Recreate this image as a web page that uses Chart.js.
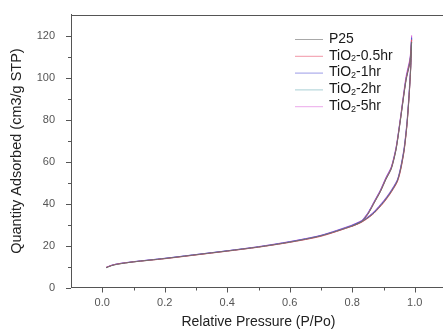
<!DOCTYPE html>
<html>
<head>
<meta charset="utf-8">
<script src="https://cdn.jsdelivr.net/npm/chart.js@4.4.1/dist/chart.umd.min.js"></script>
<style>
  html, body { margin: 0; padding: 0; background: #fff; overflow: hidden; }
  #wrap { width: 460px; height: 331px; }
</style>
</head>
<body>
<div id="wrap"><canvas id="isoterma"></canvas></div>
<script>
// nazivi uzoraka
var uzorci = ["P25", "TiO\u2082-0.5hr", "TiO\u2082-1hr", "TiO\u2082-2hr", "TiO\u2082-5hr"];

// relativni tlak, adsorpcija i desorpcija
var tlakAds = [0.012, 0.03, 0.05, 0.1, 0.2, 0.3, 0.4, 0.5, 0.6, 0.7, 0.8, 0.83, 0.85, 0.87, 0.9, 0.92, 0.944, 0.955, 0.966, 0.975, 0.982, 0.987, 0.99];
var tlakDes = [0.99, 0.985, 0.972, 0.954, 0.94, 0.925, 0.908, 0.89, 0.87, 0.86, 0.85, 0.84, 0.83, 0.8];

// kolicina adsorbirana (cm3/g STP)
var p25Ads = [9.4, 10.4, 11.1, 12.2, 13.8, 15.6, 17.4, 19.3, 21.6, 24.6, 29.3, 31.3, 33.2, 35.6, 40.6, 44.6, 50.6, 56.5, 65.5, 77.5, 91.5, 104.5, 117.0];
var p25Des = [117.0, 107.5, 98.5, 79.5, 65.5, 56.5, 51.5, 45.6, 40.2, 37.4, 34.9, 33.0, 31.4, 29.3];
var t05Ads = [9.5, 10.5, 11.2, 12.2, 13.7, 15.5, 17.3, 19.2, 21.5, 24.4, 29.2, 31.1, 33.0, 35.4, 40.3, 44.3, 50.2, 56.0, 65.0, 77.0, 91.0, 104.0, 118.0];
var t05Des = [118.0, 108.0, 99.0, 79.8, 65.8, 56.8, 51.8, 45.8, 40.4, 37.6, 35.0, 33.0, 31.2, 29.2];
var t1Ads  = [9.5, 10.6, 11.3, 12.3, 13.9, 15.7, 17.5, 19.4, 21.8, 24.8, 29.6, 31.6, 33.5, 36.0, 41.0, 45.0, 51.0, 57.0, 66.0, 78.0, 92.0, 105.0, 119.0];
var t1Des  = [119.0, 108.5, 99.5, 80.2, 66.2, 57.2, 52.2, 46.2, 40.8, 38.0, 35.4, 33.4, 31.7, 29.6];
var t2Ads  = [9.4, 10.5, 11.2, 12.2, 13.8, 15.6, 17.4, 19.3, 21.7, 24.7, 29.5, 31.4, 33.3, 35.8, 40.8, 44.8, 50.8, 56.8, 65.8, 77.8, 91.8, 104.8, 118.5];
var t2Des  = [118.5, 108.2, 99.2, 80.0, 66.0, 57.0, 52.0, 46.0, 40.6, 37.8, 35.2, 33.2, 31.5, 29.5];
var t5Ads  = [9.6, 10.6, 11.3, 12.3, 13.9, 15.7, 17.5, 19.5, 21.9, 24.9, 29.8, 31.8, 33.7, 36.2, 41.3, 45.3, 51.3, 57.5, 66.8, 79.0, 93.5, 107.0, 120.0];
var t5Des  = [120.0, 109.5, 100.5, 80.8, 66.8, 57.6, 52.5, 46.5, 41.0, 38.2, 35.6, 33.6, 31.9, 29.8];

var boje = ["#6e6e6e", "#e8506a", "#5a5ad8", "#6fb0b8", "#e070dc"];

// oznake osi
var xOznake = [0.0, 0.2, 0.4, 0.6, 0.8, 1.0];
var yOznake = [0, 20, 40, 60, 80, 100, 120];

function spoji(ads, des) {
    var tocke = [];
    for (var i = 0; i < tlakAds.length; i++) tocke.push({ x: tlakAds[i], y: ads[i] });
    for (var j = 0; j < tlakDes.length; j++) tocke.push({ x: tlakDes[j], y: des[j] });
    return tocke;
}

var serije = [spoji(p25Ads, p25Des), spoji(t05Ads, t05Des), spoji(t1Ads, t1Des), spoji(t2Ads, t2Des), spoji(t5Ads, t5Des)];

var skupovi = uzorci.map(function (naziv, i) {
    return {
        label: naziv,
        data: serije[i],
        borderColor: boje[i],
        borderWidth: 1,
        pointRadius: 0,
        showLine: true,
        tension: 0.25,
        fill: false
    };
});

// male i velike crtice na osima, gornji okvir
var crticePlugin = {
    id: 'crtice',
    afterDraw: function (chart) {
        var ctx = chart.ctx;
        var xs = chart.scales.x, ys = chart.scales.y;
        var ca = chart.chartArea;
        ctx.save();
        ctx.strokeStyle = '#555';
        ctx.lineWidth = 1;
        ctx.beginPath();
        for (var v = 0; v <= 10; v++) {
            var px = Math.round(xs.getPixelForValue(v / 10)) + 0.5;
            var d = (v % 2 === 0) ? 5 : 3;
            ctx.moveTo(px, ca.bottom);
            ctx.lineTo(px, ca.bottom + d);
        }
        for (var w = 0; w <= 12; w++) {
            var py = Math.round(ys.getPixelForValue(w * 10)) + 0.5;
            var l = (w % 2 === 0) ? 5 : 3;
            ctx.moveTo(ca.left, py);
            ctx.lineTo(ca.left - l, py);
        }
        ctx.moveTo(ca.left, Math.round(ca.top) + 0.5);
        ctx.lineTo(ca.right, Math.round(ca.top) + 0.5);
        ctx.stroke();
        ctx.restore();
    }
};

// legenda s indeksom
var legendaPlugin = {
    id: 'legenda',
    afterDraw: function (chart) {
        var ctx = chart.ctx;
        ctx.save();
        ctx.textBaseline = 'middle';
        chart.data.datasets.forEach(function (ds, i) {
            var y = 39 + i * 16.8;
            ctx.strokeStyle = ds.borderColor;
            ctx.globalAlpha = 0.6;
            ctx.lineWidth = 1;
            ctx.beginPath();
            ctx.moveTo(295, y + 0.5);
            ctx.lineTo(323, y + 0.5);
            ctx.stroke();
            ctx.globalAlpha = 1;
            ctx.fillStyle = '#1a1a1a';
            var dijelovi = ds.label.split('\u2082');
            var x = 329;
            ctx.font = '14px "Liberation Sans", Arial, sans-serif';
            ctx.fillText(dijelovi[0], x, y);
            x += ctx.measureText(dijelovi[0]).width;
            if (dijelovi.length > 1) {
                ctx.font = '9px "Liberation Sans", Arial, sans-serif';
                ctx.fillText('2', x, y + 3);
                x += ctx.measureText('2').width;
                ctx.font = '14px "Liberation Sans", Arial, sans-serif';
                ctx.fillText(dijelovi[1], x, y);
            }
        });
        ctx.restore();
    }
};

var ctx = document.getElementById('isoterma').getContext('2d');
var grafikon = new Chart(ctx, {
    type: 'scatter',
    data: { datasets: skupovi },
    options: {
        responsive: true,
        maintainAspectRatio: false,
        animation: false,
        layout: { padding: { top: 10, right: 14, left: 0, bottom: 0 } },
        plugins: {
            legend: { display: false },
            tooltip: { enabled: false }
        },
        scales: {
            x: {
                type: 'linear',
                min: -0.1,
                max: 1.1,
                afterBuildTicks: function (s) { s.ticks = xOznake.map(function (v) { return { value: v }; }); },
                afterFit: function (s) { s.height = 43.5; },
                grid: { display: false },
                border: { display: true, color: '#555', width: 1 },
                ticks: {
                    color: '#555',
                    padding: 1,
                    maxRotation: 0,
                    font: { family: '"Liberation Sans", Arial, sans-serif', size: 11 },
                    callback: function (v) { return Number(v).toFixed(1); }
                },
                title: {
                    display: true,
                    text: 'Relative Pressure (P/Po)',
                    color: '#222',
                    padding: { top: 0, bottom: 0 },
                    font: { family: '"Liberation Sans", Arial, sans-serif', size: 14 }
                }
            },
            y: {
                type: 'linear',
                min: 0,
                max: 130,
                afterBuildTicks: function (s) { s.ticks = yOznake.map(function (v) { return { value: v }; }); },
                afterFit: function (s) { s.width = 71; },
                grid: { display: false },
                border: { display: true, color: '#555', width: 1 },
                ticks: {
                    color: '#555',
                    padding: 8,
                    font: { family: '"Liberation Sans", Arial, sans-serif', size: 11 }
                },
                title: {
                    display: true,
                    text: 'Quantity Adsorbed (cm3/g STP)',
                    color: '#222',
                    padding: { top: 8, bottom: 4 },
                    font: { family: '"Liberation Sans", Arial, sans-serif', size: 14.5 }
                }
            }
        }
    },
    plugins: [crticePlugin, legendaPlugin]
});
</script>
</body>
</html>
